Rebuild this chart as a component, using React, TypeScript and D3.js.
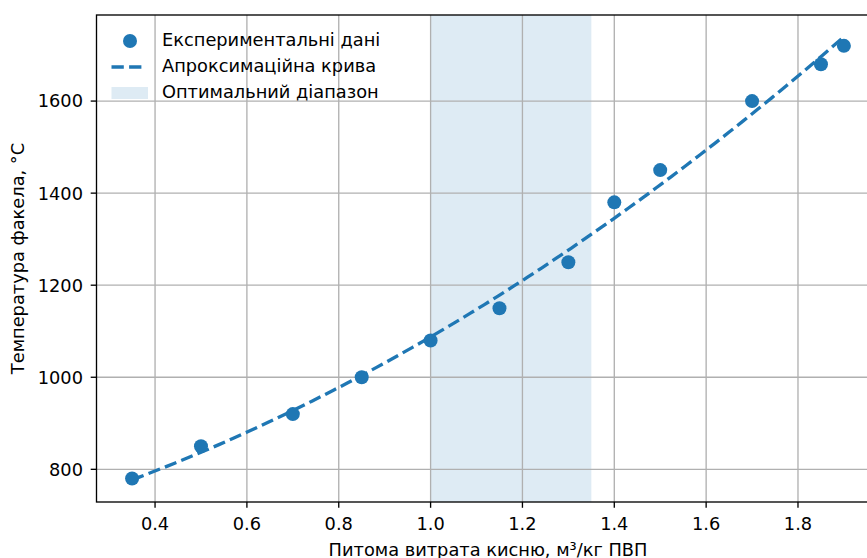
import React from "react";
import * as d3 from "d3";

const flowRates = [0.35, 0.5, 0.7, 0.85, 1.0, 1.15, 1.3, 1.4, 1.5, 1.7, 1.85, 1.9];
const temperatures = [780, 850, 920, 1000, 1080, 1150, 1250, 1380, 1450, 1600, 1680, 1720];
const optimalRange = [1.0, 1.35];
const xTicks = [0.4, 0.6, 0.8, 1.0, 1.2, 1.4, 1.6, 1.8];
const yTicks = [800, 1000, 1200, 1400, 1600];
const legendLabels = ["Експериментальні дані", "Апроксимаційна крива", "Оптимальний діапазон"];
const xLabel = "Питома витрата кисню, м³/кг ПВП";
const yLabel = "Температура факела, °C";

// quadratic least-squares fit of the data
function quadFit(xs: number[], ys: number[]) {
  const S = [0, 0, 0, 0, 0];
  const T = [0, 0, 0];
  xs.forEach((x, i) => {
    for (let k = 0; k < 5; k++) S[k] += Math.pow(x, k);
    for (let k = 0; k < 3; k++) T[k] += ys[i] * Math.pow(x, k);
  });
  const A = [
    [S[0], S[1], S[2], T[0]],
    [S[1], S[2], S[3], T[1]],
    [S[2], S[3], S[4], T[2]],
  ];
  for (let i = 0; i < 3; i++) {
    for (let j = i + 1; j < 3; j++) {
      const f = A[j][i] / A[i][i];
      for (let k = i; k < 4; k++) A[j][k] -= f * A[i][k];
    }
  }
  const c = [0, 0, 0];
  for (let i = 2; i >= 0; i--) {
    let s = A[i][3];
    for (let k = i + 1; k < 3; k++) s -= A[i][k] * c[k];
    c[i] = s / A[i][i];
  }
  return (x: number) => c[0] + c[1] * x + c[2] * x * x;
}

const W = 867;
const H = 558;
const L = 96.5;
const R = 879.5;
const T = 15;
const B = 502;
const FONT = "DejaVu Sans, sans-serif";
const FS = 17.8;
const BLUE = "#1f77b4";

export default function App() {
  const x = d3.scaleLinear().domain([0.2725, 1.9775]).range([L, R]);
  const y = d3.scaleLinear().domain([729, 1787]).range([B, T]);
  const fit = quadFit(flowRates, temperatures);
  const xMin = d3.min(flowRates)!;
  const xMax = d3.max(flowRates)!;
  const curveX = d3.range(100).map((i) => xMin + ((xMax - xMin) * i) / 99);
  const line = d3
    .line<number>()
    .x((d) => x(d))
    .y((d) => y(fit(d)));

  return (
    <div style={{ position: "absolute", left: 0, top: 0 }}>
      <svg width={W} height={H} style={{ display: "block", background: "#fff" }}>
        <defs>
          <clipPath id="plot">
            <rect x={L} y={T} width={R - L} height={B - T} />
          </clipPath>
        </defs>
        <rect
          x={x(optimalRange[0])}
          y={T}
          width={x(optimalRange[1]) - x(optimalRange[0])}
          height={B - T}
          fill={BLUE}
          fillOpacity={0.15}
        />
        {xTicks.map((t) => (
          <line key={"gx" + t} x1={x(t)} x2={x(t)} y1={T} y2={B} stroke="#b0b0b0" strokeWidth={1.33} />
        ))}
        {yTicks.map((t) => (
          <line key={"gy" + t} x1={L} x2={R} y1={y(t)} y2={y(t)} stroke="#b0b0b0" strokeWidth={1.33} />
        ))}
        <g clipPath="url(#plot)">
          <path
            d={line(curveX)!}
            fill="none"
            stroke={BLUE}
            strokeWidth={3.33}
            strokeDasharray="12.3,5.3"
          />
        </g>
        {flowRates.map((f, i) => (
          <circle key={"p" + i} cx={x(f)} cy={y(temperatures[i])} r={7} fill={BLUE} />
        ))}
        <rect x={L} y={T} width={R - L} height={B - T} fill="none" stroke="#000" strokeWidth={1.33} />
        {xTicks.map((t) => (
          <g key={"tx" + t}>
            <line x1={x(t)} x2={x(t)} y1={B} y2={B + 5.8} stroke="#000" strokeWidth={1.33} />
            <text x={x(t)} y={529.5} textAnchor="middle" fontFamily={FONT} fontSize={FS} fill="#000">
              {t.toFixed(1)}
            </text>
          </g>
        ))}
        {yTicks.map((t) => (
          <g key={"ty" + t}>
            <line x1={L - 5.8} x2={L} y1={y(t)} y2={y(t)} stroke="#000" strokeWidth={1.33} />
            <text
              x={L - 13.5}
              y={y(t)}
              dy="0.36em"
              textAnchor="end"
              fontFamily={FONT}
              fontSize={FS}
              fill="#000"
            >
              {t}
            </text>
          </g>
        ))}
        <text x={(L + R) / 2} y={556} textAnchor="middle" fontFamily={FONT} fontSize={FS} fill="#000">
          {xLabel}
        </text>
        <text
          transform={`translate(24, ${(T + B) / 2}) rotate(-90)`}
          textAnchor="middle"
          fontFamily={FONT}
          fontSize={FS}
          fill="#000"
        >
          {yLabel}
        </text>
        <g>
          <circle cx={130} cy={41} r={7} fill={BLUE} />
          <line x1={111.5} x2={145} y1={67} y2={67} stroke={BLUE} strokeWidth={3.33} strokeDasharray="12.3,5.3" />
          <rect x={111.5} y={87} width={36.5} height={12} fill={BLUE} fillOpacity={0.15} />
          {legendLabels.map((lab, i) => (
            <text key={lab} x={162} y={46 + 26 * i} fontFamily={FONT} fontSize={FS} fill="#000">
              {lab}
            </text>
          ))}
        </g>
      </svg>
    </div>
  );
}
